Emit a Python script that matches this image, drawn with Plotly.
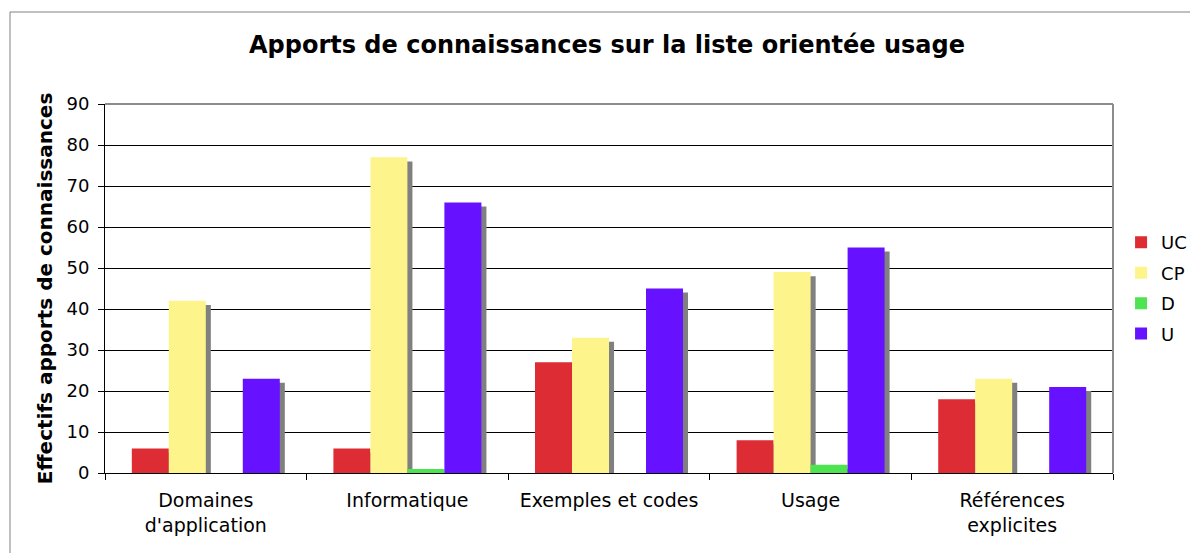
import plotly.graph_objects as go

# Categories and counts per series
categories = ["Domaines<br>d'application", "Informatique", "Exemples et codes",
              "Usage", "Références<br>explicites"]
series_names = ["UC", "CP", "D", "U"]
uc = [6, 6, 27, 8, 18]
cp = [42, 77, 33, 49, 23]
d = [0, 1, 0, 2, 0]
u = [23, 66, 45, 55, 21]
y_ticks = [0, 10, 20, 30, 40, 50, 60, 70, 80, 90]

series_values = [uc, cp, d, u]
colors = ["#DD2C33", "#FDF48C", "#4DE351", "#6611FF"]

bar_w = 0.1835          # width of one bar in category units
group_start = -0.367    # left edge of the group relative to category centre
shadow_dx = 0.025       # horizontal shadow shift (category units)
shadow_dy = 1.0         # vertical shadow drop (value units)

fig = go.Figure()

# drop shadows first so the coloured bars sit on top
for i, vals in enumerate(series_values):
    fig.add_trace(go.Bar(
        x=categories, y=vals, base=[-shadow_dy] * len(vals),
        offset=group_start + i * bar_w + shadow_dx, width=bar_w,
        marker=dict(color="#808080", line=dict(width=0)),
        showlegend=False, hoverinfo="skip",
    ))

for i, (name, vals) in enumerate(zip(series_names, series_values)):
    fig.add_trace(go.Bar(
        x=categories, y=vals, name=name,
        offset=group_start + i * bar_w, width=bar_w,
        marker=dict(color=colors[i], line=dict(width=0)),
        legendgroup=name,
    ))

fig.update_layout(
    width=1190, height=553,
    barmode="overlay",
    paper_bgcolor="white", plot_bgcolor="white",
    margin=dict(l=105, r=77, t=104, b=80, autoexpand=False),
    font=dict(family="DejaVu Sans", color="#000000", size=18),
    title=dict(
        text="<b>Apports de connaissances sur la liste orientée usage</b>",
        x=607 / 1190, xanchor="center", y=1 - 45 / 553, yanchor="middle",
        font=dict(size=24, family="DejaVu Sans"),
    ),
    legend=dict(
        x=1.008, xanchor="left", y=0.501, yanchor="middle",
        font=dict(size=18), traceorder="grouped", tracegroupgap=4,
        bgcolor="rgba(0,0,0,0)",
    ),
    showlegend=True,
)

fig.update_xaxes(
    type="category", range=[-0.5, 4.5],
    tickson="boundaries", ticks="outside", ticklen=6, tickcolor="#000",
    showline=True, linecolor="#000", linewidth=1,
    showgrid=False, tickfont=dict(size=19), ticklabelstandoff=10,
)
fig.update_yaxes(
    range=[0, 90], tickvals=y_ticks,
    ticks="outside", ticklen=6, tickcolor="#000",
    showline=True, linecolor="#000", linewidth=1,
    showgrid=True, gridcolor="#000", gridwidth=1,
    zeroline=False, tickfont=dict(size=18), ticklabelstandoff=5,
    title=dict(text="<b>Effectifs apports de connaissances</b>",
               font=dict(size=20), standoff=8),
)

# plot-area frame (top and right edges in grey) and chart outer border
fig.add_shape(type="line", xref="paper", yref="paper", x0=0, x1=1, y0=1, y1=1,
              line=dict(color="#8c8c8c", width=2), layer="above")
fig.add_shape(type="line", xref="paper", yref="paper", x0=1, x1=1, y0=0, y1=1,
              line=dict(color="#8c8c8c", width=2), layer="above")
fig.add_shape(type="rect", xref="paper", yref="paper",
              x0=(10 - 105) / 1008, x1=1.2, y0=-0.4, y1=(473 - 12) / 369,
              line=dict(color="#808080", width=1), layer="below")

fig.write_html("out.html")
